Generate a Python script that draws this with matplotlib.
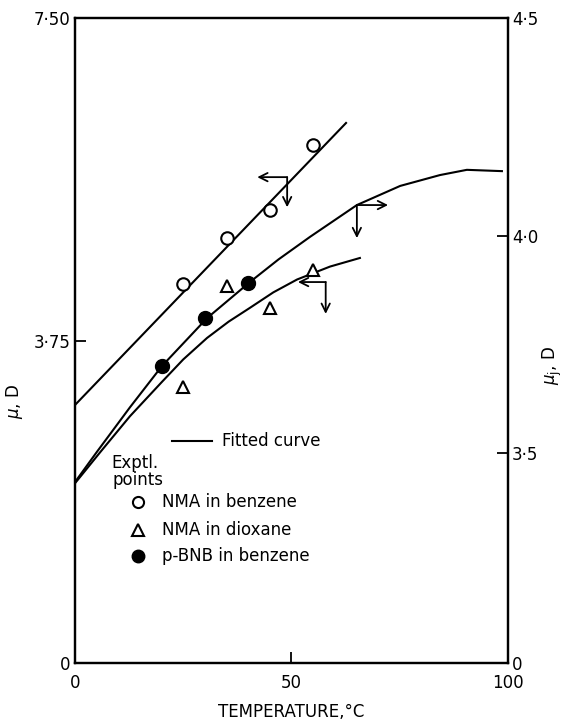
import numpy as np
import matplotlib
matplotlib.use('Agg')
import matplotlib.pyplot as plt

# NMA in benzene (left axis)
t_benz = [25, 35, 45, 55]
mu_benz = [4.41, 4.94, 5.27, 6.02]
fit_benz_t = [0, 62.6]
fit_benz_mu = [3.0, 6.28]

# NMA in dioxane (left axis)
t_diox = [25, 35, 45, 55]
mu_diox = [3.21, 4.38, 4.13, 4.57]
fit_diox_t = [0, 5.8, 12.7, 20.1, 25.0, 30.5, 35.5, 40.4, 45.8, 51.3, 58.9, 65.8]
fit_diox_mu = [2.09, 2.45, 2.87, 3.27, 3.53, 3.78, 3.97, 4.13, 4.31, 4.46, 4.61, 4.71]

# p-BNB in benzene (right axis)
t_bnb = [20, 30, 40]
muj_bnb = [3.70, 3.81, 3.89]
fit_bnb_t = [0, 5.1, 12.7, 20.1, 30.5, 40.4, 47.0, 54.3, 65.1, 75.1, 84.3, 90.5, 98.6]
fit_bnb_muj = [3.433, 3.503, 3.605, 3.70, 3.81, 3.893, 3.945, 3.997, 4.07, 4.114, 4.139, 4.151, 4.148]

left_ticks = [0, 3.75, 7.5]
left_labels = ['0', '3·75', '7·50']
right_ticks = [3.017, 3.5, 4.0, 4.5]
right_labels = ['0', '3·5', '4·0', '4·5']
x_ticks = [0, 50, 100]

plt.rcParams['font.family'] = 'DejaVu Sans'
plt.rcParams['font.size'] = 12

fig = plt.figure(figsize=(5.65, 7.22), dpi=100)
ax = fig.add_axes([0.1327, 0.0817, 0.7664, 0.8933])
ax2 = ax.twinx()

ax.set_xlim(0, 100)
ax.set_ylim(0, 7.5)
ax2.set_ylim(3.017, 4.5)

lw = 1.5
ax.plot(fit_benz_t, fit_benz_mu, color='black', lw=lw)
ax.plot(fit_diox_t, fit_diox_mu, color='black', lw=lw)
ax2.plot(fit_bnb_t, fit_bnb_muj, color='black', lw=lw)

ax.plot(t_benz, mu_benz, 'o', ms=9, mfc='white', mec='black', mew=1.5)
ax.plot(t_diox, mu_diox, '^', ms=9, mfc='white', mec='black', mew=1.5)
ax2.plot(t_bnb, muj_bnb, 'o', ms=10, color='black')

# arrows showing which axis each curve reads from
arr = dict(arrowstyle='->', lw=1.3, color='black', mutation_scale=15, shrinkA=0, shrinkB=0)
ax.annotate('', xy=(42.1, 5.65), xytext=(49, 5.65), arrowprops=arr)
ax.annotate('', xy=(49, 5.30), xytext=(49, 5.65), arrowprops=arr)
ax.annotate('', xy=(51.5, 4.43), xytext=(57.9, 4.43), arrowprops=arr)
ax.annotate('', xy=(57.9, 4.06), xytext=(57.9, 4.43), arrowprops=arr)
ax2.annotate('', xy=(72.3, 4.07), xytext=(65.1, 4.07), arrowprops=arr)
ax2.annotate('', xy=(65.1, 3.994), xytext=(65.1, 4.07), arrowprops=arr)

# legend, drawn by hand like the original
ax.plot([22.4, 31.6], [2.58, 2.58], color='black', lw=lw)
ax.text(34.0, 2.58, 'Fitted curve', va='center', ha='left')
ax.text(8.5, 2.33, 'Exptl.', va='center', ha='left')
ax.text(8.7, 2.13, 'points', va='center', ha='left')
ax.plot([14.6], [1.87], 'o', ms=8, mfc='white', mec='black', mew=1.5)
ax.text(20.1, 1.87, 'NMA in benzene', va='center', ha='left')
ax.plot([14.6], [1.55], '^', ms=8, mfc='white', mec='black', mew=1.5)
ax.text(20.1, 1.55, 'NMA in dioxane', va='center', ha='left')
ax.plot([14.6], [1.24], 'o', ms=9, color='black')
ax.text(20.1, 1.24, 'p-BNB in benzene', va='center', ha='left')

ax.set_xticks(x_ticks)
ax.set_yticks(left_ticks)
ax.set_yticklabels(left_labels)
ax2.set_yticks(right_ticks)
ax2.set_yticklabels(right_labels)

ax.tick_params(direction='in', length=8, width=1.3, pad=3)
ax.tick_params(axis='x', pad=8)
ax2.tick_params(direction='in', length=8, width=1.3, pad=3)

for a in (ax, ax2):
    for s in a.spines.values():
        s.set_linewidth(1.6)

ax.set_xlabel('TEMPERATURE,°C', labelpad=8)
ax.set_ylabel(r'$\mu$, D')
ax.yaxis.set_label_coords(-0.115, 0.405)
ax2.set_ylabel(r'$\mu_{\rm j}$, D', rotation=90)
ax2.yaxis.set_label_coords(1.075, 0.462)

fig.savefig('out.png', dpi=100)
